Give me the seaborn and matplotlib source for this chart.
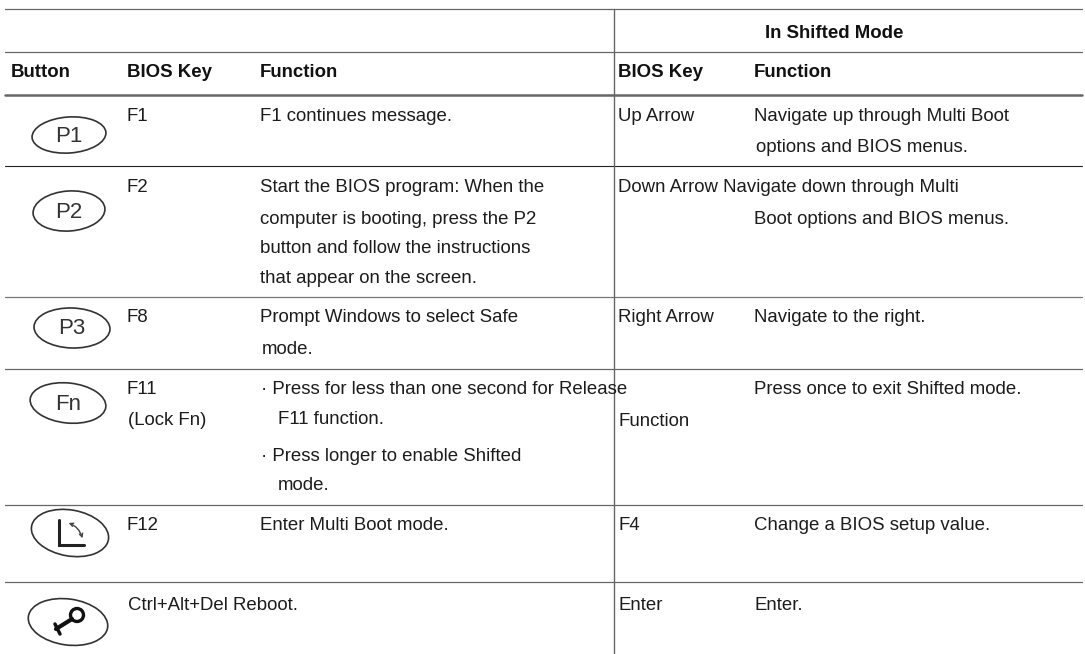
import matplotlib
matplotlib.use("Agg")
import matplotlib.pyplot as plt
import pandas as pd
import seaborn as sns
from matplotlib.patches import Circle, Ellipse

# table content
header_texts = ["In Shifted Mode", "Button", "BIOS Key", "Function", "BIOS Key", "Function"]
body_texts = [
    "F1", "F1 continues message.", "Up Arrow", "Navigate up through Multi Boot", "options and BIOS menus.",
    "F2", "Start the BIOS program: When the", "computer is booting, press the P2",
    "button and follow the instructions", "that appear on the screen.",
    "Down Arrow Navigate down through Multi", "Boot options and BIOS menus.",
    "F8", "Prompt Windows to select Safe", "mode.", "Right Arrow", "Navigate to the right.",
    "F11", "(Lock Fn)", "· Press for less than one second for Release", "F11 function.",
    "· Press longer to enable Shifted", "mode.", "Function", "Press once to exit Shifted mode.",
    "F12", "Enter Multi Boot mode.", "F4", "Change a BIOS setup value.",
    "Ctrl+Alt+Del Reboot.", "Enter", "Enter.",
]
button_labels = ["P1", "P2", "P3", "Fn"]

# layout, in image pixels
WIDTH, HEIGHT = 1085, 654
header_x = [765, 11, 127, 260, 618, 754]
header_y = [38, 77, 77, 77, 77, 77]
body_x = [127, 260, 618, 754, 756,
          127, 260, 260, 260, 260,
          618, 754,
          127, 260, 262, 618, 754,
          127, 128, 261, 278, 261, 278, 618, 754,
          127, 260, 618, 754,
          128, 618, 754]
body_y = [121, 121, 121, 121, 152,
          192, 192, 224, 253, 283,
          192, 224,
          322, 322, 354, 322, 322,
          394, 425, 394, 424, 461, 490, 426, 394,
          530, 530, 530, 530,
          610, 610, 610]
rule_y = [9, 52, 94.5, 166, 297, 369, 505, 582]
rule_w = [0.9, 0.9, 1.8, 0.8, 0.9, 0.9, 0.9, 0.9]
rule_c = ["#666666", "#666666", "#666666", "#222222", "#777777", "#666666", "#666666", "#666666"]
oval_x = [69, 69, 72, 68, 70, 68]
oval_y = [135, 211, 328, 403, 533, 622]
oval_w = [74, 72, 76, 76, 78, 80]
oval_h = [36, 40, 40, 40, 46, 46]
oval_a = [-4, -4, 2, 6, 10, 8]

sns.set_theme(style="white")
plt.rcParams["font.family"] = ["Liberation Sans", "DejaVu Sans"]

fig = plt.figure(figsize=(WIDTH / 100, HEIGHT / 100), dpi=100)
ax = fig.add_axes([0, 0, 1, 1])

rules = pd.DataFrame({"y": rule_y, "w": rule_w, "c": rule_c})
for _, r in rules.iterrows():
    sns.lineplot(x=[5, 1082], y=[r.y, r.y], color=r.c, linewidth=r.w, ax=ax, estimator=None)
sns.lineplot(x=[614, 614], y=[9, HEIGHT], color="#666666", linewidth=1.0, ax=ax, estimator=None, sort=False)

ax.set_xlim(0, WIDTH)
ax.set_ylim(HEIGHT, 0)
ax.axis("off")

for x, y, t in zip(header_x, header_y, header_texts):
    ax.text(x, y, t, fontsize=13.4, fontweight="bold", va="baseline", color="#111111")
for x, y, t in zip(body_x, body_y, body_texts):
    ax.text(x, y, t, fontsize=13.4, va="baseline", color="#1c1c1c")

for x, y, w, h, a in zip(oval_x, oval_y, oval_w, oval_h, oval_a):
    ax.add_patch(Ellipse((x, y), w, h, angle=a, fill=False, ec="#333333", lw=1.2))
for x, y, t in zip(oval_x, oval_y, button_labels):
    ax.text(x, y + 1, t, fontsize=16, ha="center", va="center", color="#333333")

# angle icon
ax.plot([59, 59, 84], [520, 545, 545], color="#222222", lw=2.2, solid_joinstyle="miter")
ax.annotate("", xy=(83, 541), xytext=(66, 522),
            arrowprops=dict(arrowstyle="<->", connectionstyle="arc3,rad=-0.3", color="#444444", lw=1, mutation_scale=6))

# key icon
ax.add_patch(Circle((77, 615), 6.5, fill=False, ec="#111111", lw=2.4))
ax.plot([56, 72], [629, 619], color="#111111", lw=3)
ax.plot([55, 60], [624, 634], color="#111111", lw=2.5)

fig.savefig("out.png", dpi=100)
